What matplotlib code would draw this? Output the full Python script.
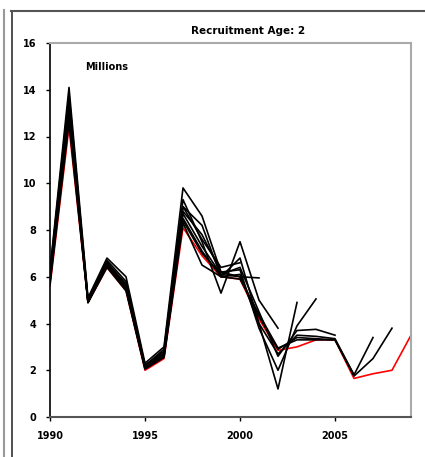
import matplotlib
matplotlib.use("Agg")
import matplotlib.pyplot as plt
from matplotlib.lines import Line2D

# final assessment (red), 1990-2009, millions
years = list(range(1990, 2010))
final_run = [5.6, 12.4, 4.9, 6.4, 5.4, 2.0, 2.5, 8.1, 6.9, 6.0,
             5.9, 4.2, 2.85, 3.0, 3.3, 3.3, 1.65, 1.85, 2.0, 3.5]

# retrospective runs (black), each starting 1990 and ending at its terminal year
run_2000 = [6.0, 13.2, 5.0, 6.6, 5.6, 2.2, 2.7, 9.0, 7.6, 6.4, 6.6]
run_2001 = [6.3, 14.1, 5.1, 6.8, 6.0, 2.3, 3.0, 9.8, 8.6, 6.2, 6.0, 5.95]
run_2002 = [6.2, 13.8, 5.0, 6.7, 5.8, 2.2, 2.9, 9.3, 7.5, 5.3, 7.5, 5.0, 3.8]
run_2003 = [6.1, 13.6, 5.0, 6.6, 5.7, 2.2, 2.8, 9.0, 8.2, 6.0, 6.8, 4.0, 1.2, 4.9]
run_2004 = [6.0, 13.4, 4.9, 6.6, 5.6, 2.2, 2.8, 8.8, 7.8, 6.2, 6.3, 3.8, 2.0, 3.9, 5.05]
run_2005 = [5.9, 13.2, 4.9, 6.5, 5.5, 2.1, 2.7, 8.7, 7.3, 6.1, 6.4, 4.5, 2.6, 3.7, 3.75, 3.5]
run_2006 = [5.8, 13.0, 4.9, 6.5, 5.5, 2.1, 2.6, 8.5, 7.1, 6.0, 6.1, 4.0, 2.7, 3.5, 3.45, 3.35, 1.8]
run_2007 = [5.8, 12.8, 4.9, 6.5, 5.5, 2.1, 2.6, 8.4, 7.0, 6.1, 6.0, 4.3, 2.9, 3.4, 3.35, 3.3, 1.8, 3.4]
run_2008 = [5.7, 12.6, 4.9, 6.4, 5.4, 2.05, 2.55, 8.3, 6.5, 6.0, 5.9, 4.4, 2.95, 3.3, 3.3, 3.3, 1.75, 2.5, 3.8]
retro_runs = [run_2000, run_2001, run_2002, run_2003, run_2004,
              run_2005, run_2006, run_2007, run_2008]

y_ticks = [0, 2, 4, 6, 8, 10, 12, 14, 16]
x_ticks = [1990, 1995, 2000, 2005]

fig = plt.figure(figsize=(4.25, 4.57), dpi=100)
ax = fig.add_axes([50 / 425, 1 - 417 / 457, 361 / 425, 374 / 457])

# red underneath, black retrospective runs on top
ax.plot(years, final_run, color="red", linewidth=1.2, zorder=2)
for run in retro_runs:
    ax.plot(years[:len(run)], run, color="black", linewidth=1.2, zorder=3)

ax.set_xlim(1990, 2009)
ax.set_ylim(0, 16)
ax.set_xticks(x_ticks)
ax.set_yticks(y_ticks)
ax.tick_params(axis="both", direction="out", length=3, width=1, labelsize=7, pad=7)
for lab in ax.get_xticklabels() + ax.get_yticklabels():
    lab.set_fontweight("bold")

ax.spines["left"].set_color("black")
ax.spines["left"].set_linewidth(1.2)
ax.spines["bottom"].set_color("#555555")
ax.spines["bottom"].set_linewidth(1.5)
for side in ("top", "right"):
    ax.spines[side].set_color("#aaaaaa")
    ax.spines[side].set_linewidth(1.5)

ax.text(0.5 + 18 / 361, 1.02, "Recruitment Age: 2", transform=ax.transAxes,
        ha="center", va="bottom", fontsize=7.5, fontweight="bold")
ax.text(35 / 361, 0.935, "Millions", transform=ax.transAxes,
        ha="left", va="center", fontsize=7, fontweight="bold")

# outer chart frame
fig.add_artist(Line2D([4 / 425, 4 / 425], [0, 1 - 10 / 457], color="#999999", linewidth=1.5))
fig.add_artist(Line2D([11.5 / 425, 11.5 / 425], [0, 1 - 10.5 / 457], color="#333333", linewidth=1.2))
fig.add_artist(Line2D([11 / 425, 1], [1 - 10.5 / 457, 1 - 10.5 / 457], color="#555555", linewidth=1.5))

fig.savefig("out.png", dpi=100)
plt.close(fig)
